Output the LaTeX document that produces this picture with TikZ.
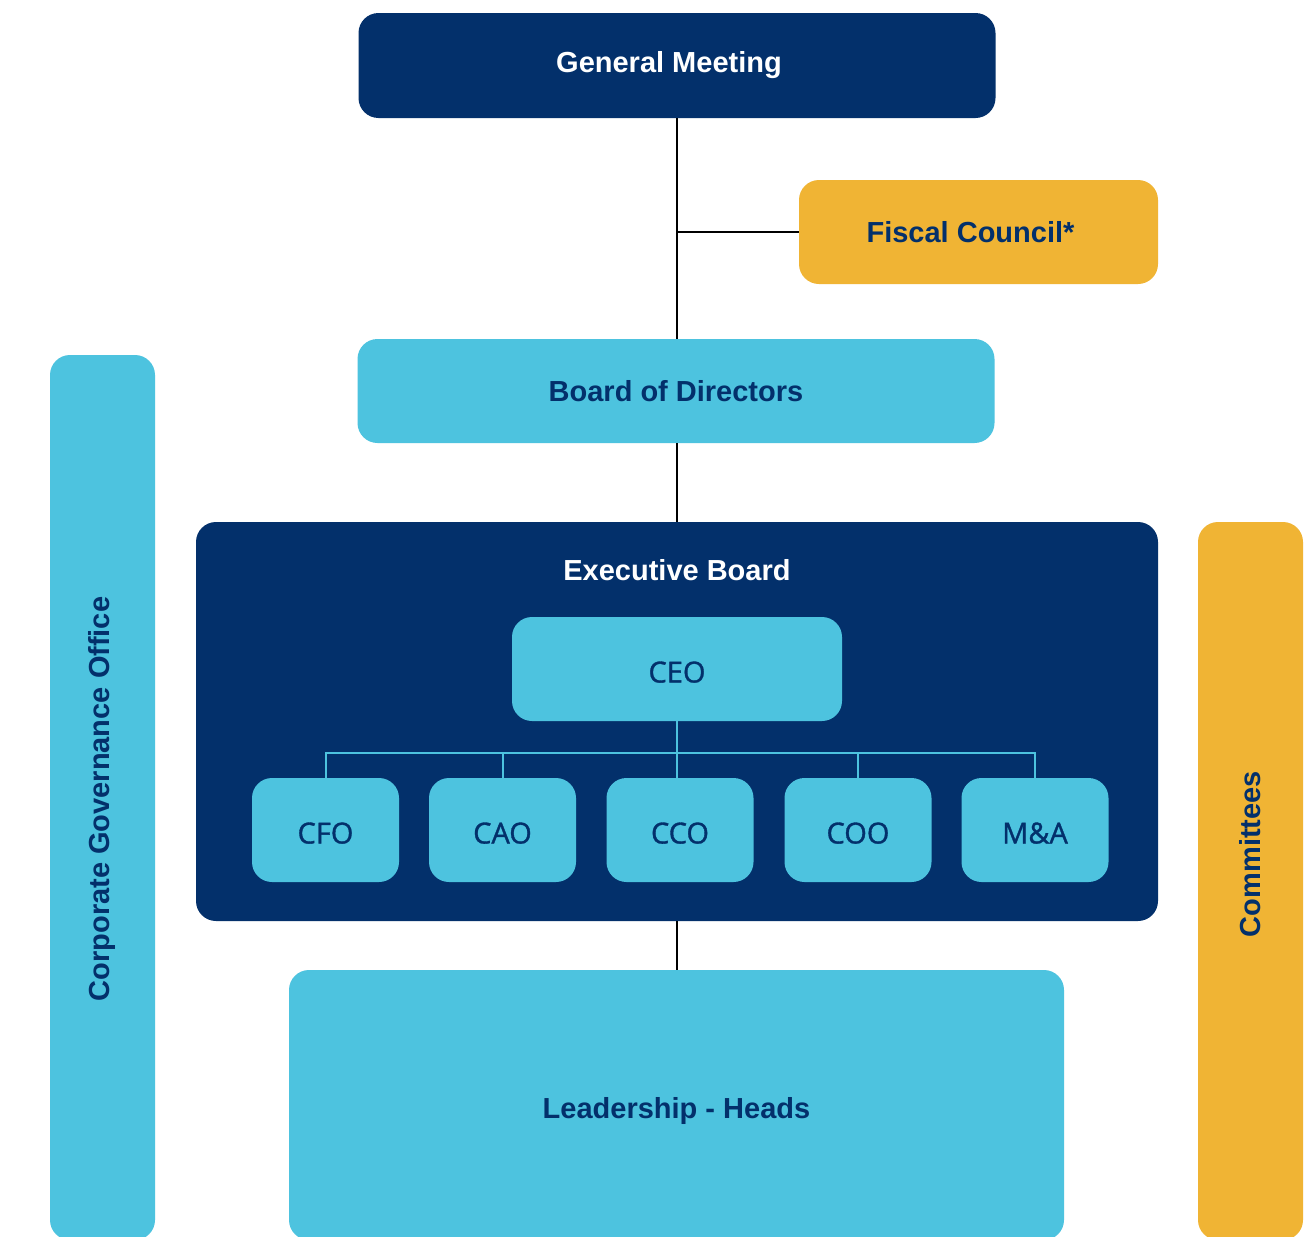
\documentclass[tikz,border=0pt]{standalone}
\usepackage{fontspec}
\setmainfont{Liberation Sans}
\newfontfamily\osfont[FakeBold=1.2]{Open Sans}
\definecolor{navy}{RGB}{3,48,107}
\definecolor{lblue}{RGB}{77,195,223}
\definecolor{gold}{RGB}{240,180,52}
\begin{document}
\begin{tikzpicture}[x=1pt,y=-1pt,
  base/.style={rounded corners=20pt, inner sep=0pt, anchor=center},
  bigfont/.style={font=\bfseries\fontsize{29}{34}\selectfont},
  lowtext/.style={text height=27pt, text depth=0pt},
  darkbox/.style={base, fill=navy, text=white, bigfont},
  lightbox/.style={base, fill=lblue, text=navy, bigfont},
  goldbox/.style={base, fill=gold, text=navy, bigfont},
  smallbox/.style={base, lowtext, fill=lblue, text=navy, font=\osfont\fontsize{29}{34}\selectfont,
                   minimum width=147pt, minimum height=104pt},
  blackline/.style={draw=black, line width=2pt},
  blueline/.style={draw=lblue, line width=2pt},
  titletext/.style={inner sep=0pt, text=white, bigfont},
  sidetext/.style={inner sep=0pt, text=navy, bigfont, rotate=90}
]
\clip (0,0) rectangle (1307,1237);
\useasboundingbox (0,0) rectangle (1307,1237);
\fill[white] (0,0) rectangle (1307,1237);

% side bars
\node[lightbox, minimum width=105pt, minimum height=885pt] (cgo) at (102.5,797.5) {};
\node[sidetext] (cgot) at (102.5,799) {Corporate Governance Office};
\node[goldbox, minimum width=105pt, minimum height=718pt] (com) at (1250.5,881) {};
\node[sidetext] (comt) at (1250.5,854) {Committees};

% main chain
\node[darkbox, minimum width=637pt, minimum height=105pt] (gm) at (677,65.5) {\hspace*{-16pt}General Meeting};
\node[goldbox, minimum width=359pt, minimum height=104pt] (fc) at (978.5,232) {\hspace*{-16pt}Fiscal Council*};
\node[lightbox, minimum width=637pt, minimum height=104pt] (bod) at (676,391) {Board of Directors};
\node[darkbox, minimum width=962pt, minimum height=399pt] (eb) at (677,721.5) {};
\node[titletext] (ebt) at (677,570) {Executive Board};
\node[lightbox, lowtext, minimum width=775pt, minimum height=270pt] (lh) at (676.5,1105) {Leadership - Heads};

% executive members
\node[smallbox, minimum width=330pt] (ceo) at (677,669) {CEO};
\node[smallbox] (cfo) at (325.5,830) {CFO};
\node[smallbox] (cao) at (502.5,830) {CAO};
\node[smallbox] (cco) at (680,830) {CCO};
\node[smallbox] (coo) at (858,830) {COO};
\node[smallbox] (ma) at (1035,830) {M\&A};

% black connectors
\draw[blackline] (gm.south) -- (gm.south |- bod.north);
\draw[blackline] (fc.west) -- (fc.west -| gm.south);
\draw[blackline] (bod.south -| eb.north) -- (eb.north);
\draw[blackline] (eb.south) -- (eb.south |- lh.north);

% blue connectors
\coordinate (j) at (677,753);
\draw[blueline] (ceo.south) -- (ceo.south |- cco.north);
\draw[blueline] (cfo.north) -- (cfo.north |- j) -- (ma.north |- j) -- (ma.north);
\draw[blueline] (cao.north) -- (cao.north |- j);
\draw[blueline] (coo.north) -- (coo.north |- j);
\end{tikzpicture}
\end{document}
